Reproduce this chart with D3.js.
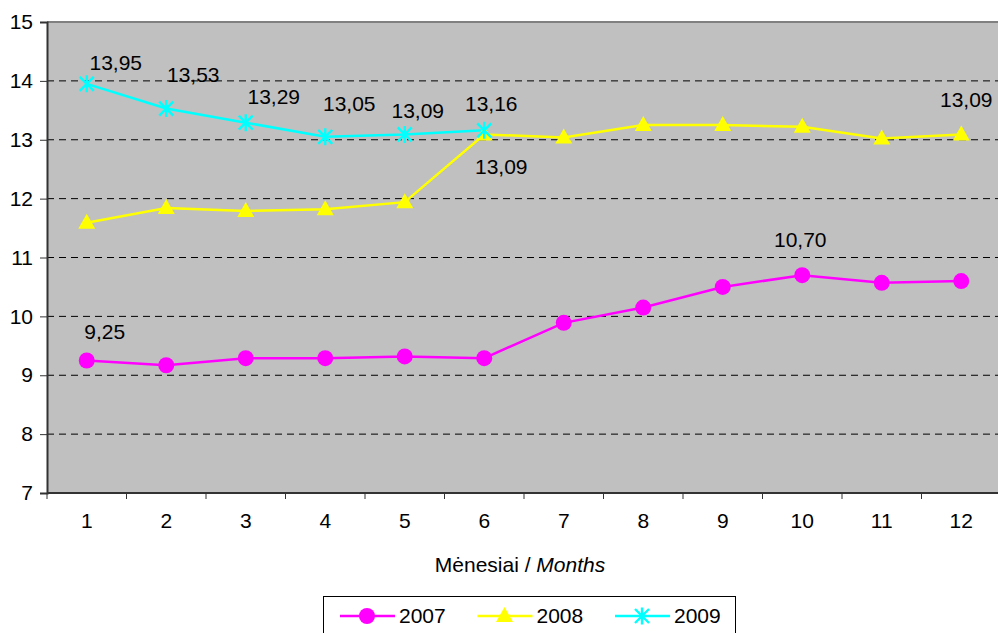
<!DOCTYPE html>
<html>
<head>
<meta charset="utf-8">
<script src="https://cdn.jsdelivr.net/npm/d3@7"></script>
<style>
  body { margin: 0; background: #fff; }
  svg text { font-family: "Liberation Sans", Arial, sans-serif; }
</style>
</head>
<body>
<svg id="chart"></svg>
<script>
let width = 998,
    height = 633;

let fontSize = 21;

let months = ["1", "2", "3", "4", "5", "6", "7", "8", "9", "10", "11", "12"];
let yTicks = [7, 8, 9, 10, 11, 12, 13, 14, 15];

let values2007 = [9.25, 9.17, 9.29, 9.29, 9.32, 9.29, 9.89, 10.15, 10.50, 10.70, 10.57, 10.60];
let values2008 = [11.59, 11.84, 11.79, 11.82, 11.94, 13.09, 13.04, 13.25, 13.25, 13.22, 13.02, 13.09];
let values2009 = [13.95, 13.53, 13.29, 13.05, 13.09, 13.16];

let seriesNames = ["2007", "2008", "2009"];

// which points carry a value label: [series, month index]
let labelled = [
    ["2007", 0], ["2007", 9],
    ["2008", 5], ["2008", 11],
    ["2009", 0], ["2009", 1], ["2009", 2], ["2009", 3], ["2009", 4], ["2009", 5]
];
// label placement relative to the point (layout only)
let labelOffsets = [
    [18, -29], [-2, -36],
    [17, 32], [5, -35],
    [29, -21], [27, -34], [28, -26], [24, -33], [13, -24], [7, -27]
];

let series = {
    "2007": { values: values2007, color: "#ff00ff", marker: "circle" },
    "2008": { values: values2008, color: "#ffff00", marker: "triangle" },
    "2009": { values: values2009, color: "#00ffff", marker: "star" }
};

let plot = { left: 47, top: 22, right: 1001, bottom: 493 };

let svg = d3.select("svg#chart")
    .attr("width", width)
    .attr("height", height);

let x = d3.scaleBand().domain(months).range([plot.left, plot.right]);
let cx = m => x(m) + x.bandwidth() / 2;
let y = d3.scaleLinear().domain([7, 15]).range([plot.bottom, plot.top]);

// plot background
svg.append("rect")
    .attr("x", plot.left)
    .attr("y", plot.top)
    .attr("width", plot.right - plot.left)
    .attr("height", plot.bottom - plot.top)
    .attr("fill", "#c0c0c0");

// dashed gridlines
svg.append("g")
    .selectAll("line")
    .data(yTicks.filter(d => d > 7 && d < 15))
    .enter().append("line")
    .attr("x1", plot.left)
    .attr("x2", plot.right)
    .attr("y1", d => y(d))
    .attr("y2", d => y(d))
    .attr("stroke", "#000")
    .attr("stroke-width", 1)
    .attr("stroke-dasharray", "7,5");

// top frame line
svg.append("line")
    .attr("x1", plot.left).attr("x2", plot.right)
    .attr("y1", y(15)).attr("y2", y(15))
    .attr("stroke", "#808080")
    .attr("stroke-width", 2);

// y axis
let yAxis = svg.append("g")
    .attr("transform", `translate(${plot.left}, 0)`)
    .call(d3.axisLeft(y).tickValues(yTicks).tickSize(7).tickPadding(7).tickFormat(d3.format("d")));
yAxis.select(".domain").attr("stroke", "#333").attr("stroke-width", 2);
yAxis.selectAll(".tick line").attr("stroke", "#333");
yAxis.selectAll("text").attr("font-size", fontSize).attr("fill", "#000")
    .attr("font-family", "Liberation Sans, Arial, sans-serif");

// x axis (ticks between categories)
let xAxis = svg.append("g")
    .attr("transform", `translate(0, ${plot.bottom})`);
xAxis.append("line")
    .attr("x1", plot.left).attr("x2", plot.right)
    .attr("stroke", "#333").attr("stroke-width", 2);
xAxis.selectAll("line.tk")
    .data(months)
    .enter().append("line")
    .attr("class", "tk")
    .attr("x1", d => x(d)).attr("x2", d => x(d))
    .attr("y1", 0).attr("y2", 6)
    .attr("stroke", "#333");
xAxis.selectAll("text")
    .data(months)
    .enter().append("text")
    .attr("x", d => cx(d))
    .attr("y", 35)
    .attr("text-anchor", "middle")
    .attr("font-size", fontSize)
    .text(d => d);

// axis title
let title = svg.append("text")
    .attr("x", 520)
    .attr("y", 572)
    .attr("text-anchor", "middle")
    .attr("font-size", fontSize);
title.append("tspan").text("Mėnesiai / ");
title.append("tspan").attr("font-style", "italic").text("Months");

function drawMarker(g, type, color) {
    if (type === "circle") {
        g.append("circle").attr("r", 8).attr("fill", color);
    } else if (type === "triangle") {
        g.append("path").attr("d", "M0,-9L8.5,6L-8.5,6Z").attr("fill", color);
    } else {
        g.append("path")
            .attr("d", "M0,-8.5V8.5M-7,-7L7,7M-7,7L7,-7")
            .attr("stroke", color)
            .attr("stroke-width", 2.4)
            .attr("fill", "none");
    }
}

let line = d3.line()
    .x((d, i) => cx(months[i]))
    .y(d => y(d));

seriesNames.forEach(name => {
    let s = series[name];
    svg.append("path")
        .datum(s.values)
        .attr("fill", "none")
        .attr("stroke", s.color)
        .attr("stroke-width", 2.5)
        .attr("d", line);
});

seriesNames.forEach(name => {
    let s = series[name];
    s.values.forEach((v, i) => {
        let g = svg.append("g").attr("transform", `translate(${cx(months[i])}, ${y(v)})`);
        drawMarker(g, s.marker, s.color);
    });
});

// value labels
let fmt = v => d3.format(".2f")(v).replace(".", ",");
labelled.forEach((l, k) => {
    let v = series[l[0]].values[l[1]];
    svg.append("text")
        .attr("x", cx(months[l[1]]) + labelOffsets[k][0])
        .attr("y", y(v) + labelOffsets[k][1])
        .attr("dy", "0.35em")
        .attr("text-anchor", "middle")
        .attr("font-size", fontSize)
        .text(fmt(v));
});

// legend
let legend = svg.append("g");
legend.append("rect")
    .attr("x", 323.5).attr("y", 596.5)
    .attr("width", 412).attr("height", 50)
    .attr("fill", "#fff")
    .attr("stroke", "#000");
let legendX = d3.scalePoint().domain(seriesNames).range([340, 615]);
seriesNames.forEach(name => {
    let s = series[name];
    let lx = legendX(name);
    let g = legend.append("g").attr("transform", `translate(${lx}, 616)`);
    g.append("line").attr("x1", 0).attr("x2", 55).attr("stroke", s.color).attr("stroke-width", 2.5);
    drawMarker(g.append("g").attr("transform", "translate(27,0)"), s.marker, s.color);
    g.append("text").attr("x", 59).attr("dy", "0.35em").attr("font-size", fontSize).text(name);
});
</script>
</body>
</html>
